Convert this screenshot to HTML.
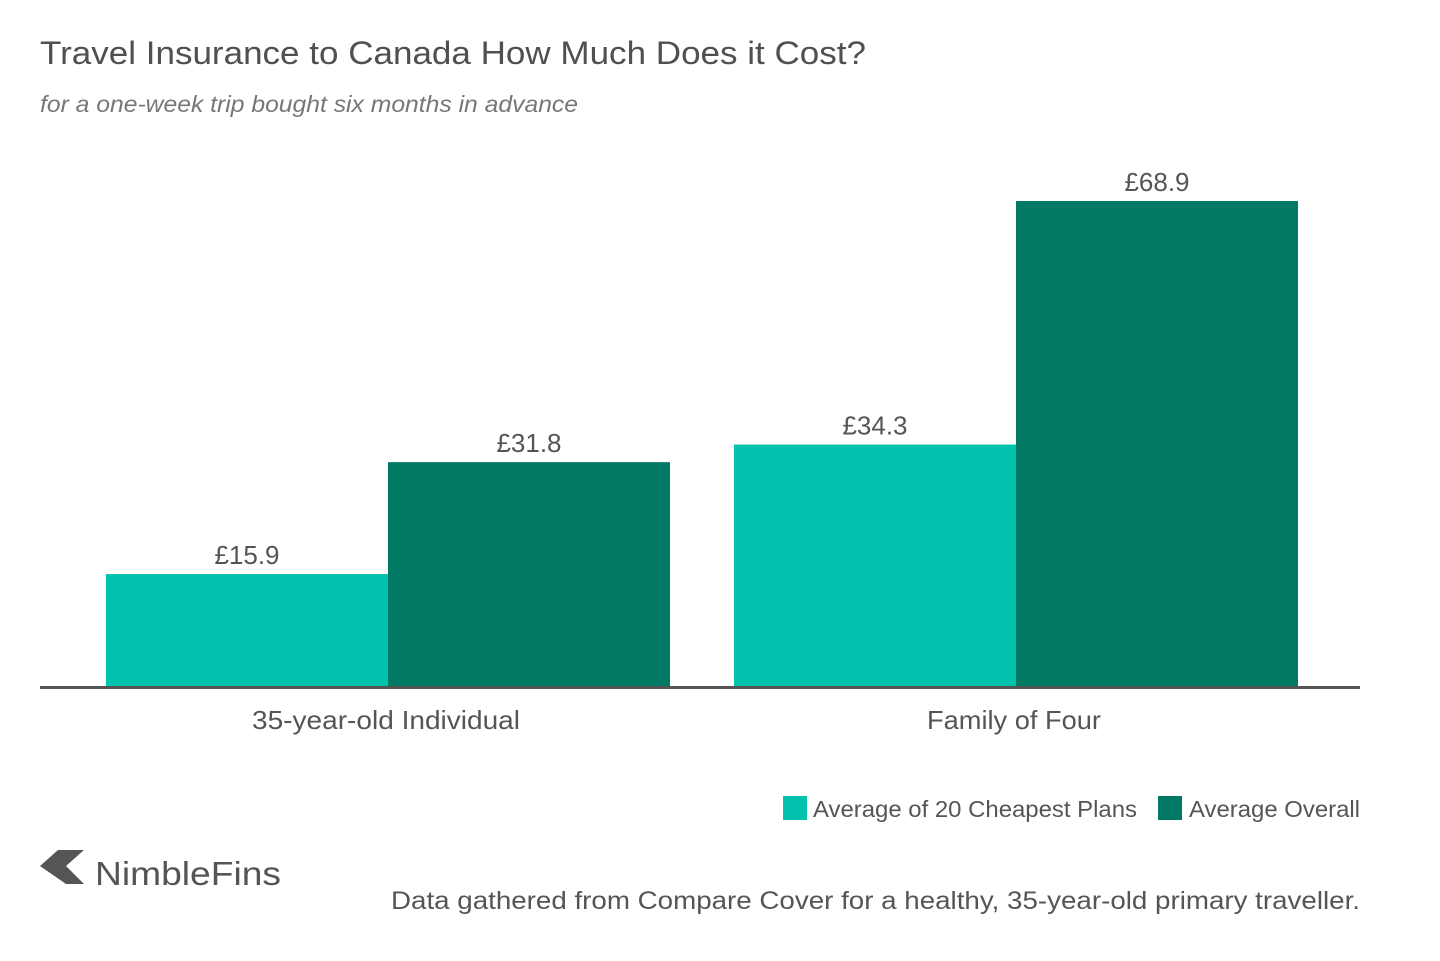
<!DOCTYPE html>
<html><head><meta charset="utf-8"><style>
body{margin:0;background:#fff;font-family:"Liberation Sans",sans-serif;}
svg text{font-family:"Liberation Sans",sans-serif;}
</style></head><body>
<svg id="chart" width="1440" height="956" xmlns="http://www.w3.org/2000/svg">
<text x="40" y="64" font-size="32" fill="#505050" textLength="826" lengthAdjust="spacingAndGlyphs">Travel Insurance to Canada How Much Does it Cost?</text>
<text x="40" y="112" font-size="23" font-style="italic" fill="#777" textLength="538" lengthAdjust="spacingAndGlyphs">for a one-week trip bought six months in advance</text>
<g id="bars"></g>
<line x1="40" x2="1360" y1="687.5" y2="687.5" stroke="#555" stroke-width="3"/>
<g>
<rect x="783" y="796" width="24" height="24" fill="#00c2ad"/>
<text x="813" y="817" font-size="23" fill="#555" textLength="324" lengthAdjust="spacingAndGlyphs">Average of 20 Cheapest Plans</text>
<rect x="1158" y="796" width="24" height="24" fill="#017a65"/>
<text x="1189" y="817" font-size="23" fill="#555" textLength="171" lengthAdjust="spacingAndGlyphs">Average Overall</text>
</g>
<g>
<polygon points="40,866 58,850 84,850 66,866 84,884 66,884" fill="#555"/>
<text x="95" y="885" font-size="33" fill="#555" textLength="186" lengthAdjust="spacingAndGlyphs">NimbleFins</text>
</g>
<text x="391" y="909" font-size="25" fill="#555" textLength="969" lengthAdjust="spacingAndGlyphs">Data gathered from Compare Cover for a healthy, 35-year-old primary traveller.</text>
</svg>
<script>
const categories = ["35-year-old Individual", "Family of Four"];
const cheapest = [15.9, 34.3];
const overall = [31.8, 68.9];
const seriesNames = ["cheapest", "overall"];
const colors = ["#00c2ad", "#017a65"];
const labelWidths = [268, 174];
const ns = "http://www.w3.org/2000/svg";
const g = document.getElementById("bars");
const firstCenter = 388, bandW = 628, barW = 282, base = 686, yMax = 68.9, topPx = 201;
function y(v){ return base - v * (base - topPx) / yMax; }
categories.forEach((c, i) => {
  const cx = firstCenter + i * bandW;
  const bx = cx - barW;
  [cheapest, overall].forEach((s, j) => {
    const v = s[i];
    const r = document.createElementNS(ns, "rect");
    r.setAttribute("x", bx + j * barW);
    r.setAttribute("y", y(v));
    r.setAttribute("width", barW);
    r.setAttribute("height", base - y(v));
    r.setAttribute("fill", colors[j]);
    
    
    g.appendChild(r);
    const t = document.createElementNS(ns, "text");
    t.setAttribute("x", bx + j * barW + barW / 2);
    t.setAttribute("y", y(v) - 10);
    t.setAttribute("text-anchor", "middle");
    t.setAttribute("font-size", "26");
    t.setAttribute("fill", "#555");
    t.textContent = "£" + v.toFixed(1);
    
    
    g.appendChild(t);
  });
  const l = document.createElementNS(ns, "text");
  l.setAttribute("x", cx - 2);
  l.setAttribute("y", 729);
  l.setAttribute("text-anchor", "middle");
  l.setAttribute("font-size", "26");
  l.setAttribute("fill", "#555");
  l.setAttribute("textLength", labelWidths[i]);
  l.setAttribute("lengthAdjust", "spacingAndGlyphs");
  l.textContent = c;
  
  
  g.appendChild(l);
});
</script>
</body></html>
